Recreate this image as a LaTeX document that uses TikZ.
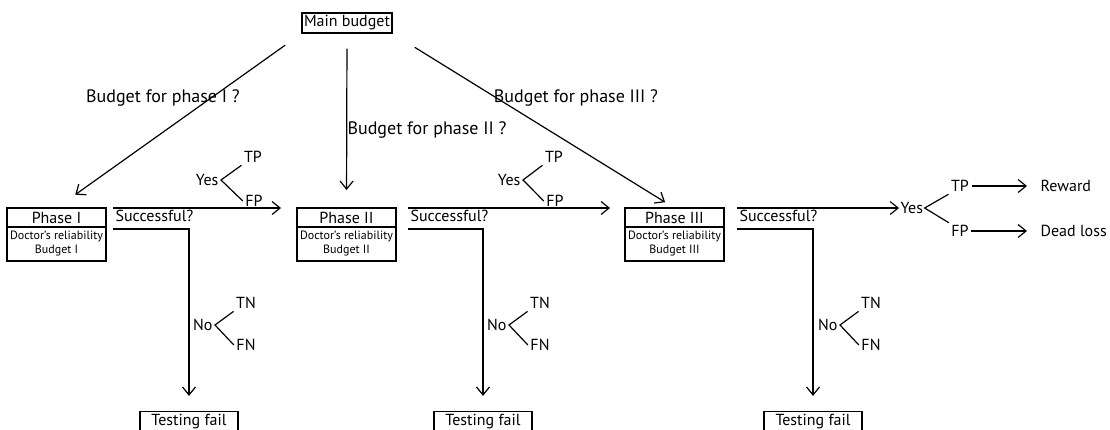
\documentclass[tikz,border=0pt]{standalone}
\usepackage{fontspec}
\setmainfont{PT Sans}
\usepackage{tikz}
\usetikzlibrary{arrows.meta,positioning,calc}
\tikzset{
  lbl/.style={inner sep=2pt, font=\fontsize{16}{18}\selectfont},
  qlbl/.style={inner sep=2pt, font=\fontsize{18}{20}\selectfont},
  namebox/.style={draw, inner sep=2pt, minimum height=20pt, font=\fontsize{16}{18}\selectfont},
  phasebox/.style={draw, outer sep=0pt, inner sep=1pt, minimum width=99pt, minimum height=19pt,
    font=\fontsize{16}{18}\selectfont},
  infobox/.style={draw, outer sep=0pt, inner sep=1pt, minimum width=99pt, minimum height=34pt,
    align=center, font=\fontsize{12}{14}\selectfont},
  failbox/.style={draw, inner sep=3pt, minimum width=98pt, minimum height=21pt,
    font=\fontsize{16}{18}\selectfont}
}

\begin{document}
\begin{tikzpicture}[x=1pt,y=-1pt,>={Straight Barb[length=8pt,width=13pt]},line width=1.2pt]
  \useasboundingbox (0,0) rectangle (1110,429);
  \clip (0,0) rectangle (1110,429);

  \node[namebox] (main) at (347,23) {Main budget};

  \foreach \i/\x/\r in {1/56.5/I,2/346.5/II,3/674.5/III} {
    \node[phasebox] (ph\i) at (\x,217.5) {Phase \r};
    \node[infobox,below=0pt of ph\i] (info\i) {Doctor's reliability\\Budget \r};
  }
  \foreach \i/\x in {1/189,2/483,3/813}
    \node[failbox] (fail\i) at (\x,422) {Testing fail};

  % budget questions
  \draw[->,shorten <=20pt,shorten >=23pt] (main.south west) -- (ph1.north);
  \draw[->,shorten <=15pt,shorten >=18pt] (main.south) -- (ph2.north);
  \draw[->,shorten <=26pt,shorten >=11pt] (main.south east) -- (ph3.north);
  \node[qlbl] (q1) at (163,98) {Budget for phase I ?};
  \node[qlbl] (q2) at (427,130) {Budget for phase II ?};
  \node[qlbl] (q3) at (576,98) {Budget for phase III ?};

  % successful -> next phase
  \draw[->,shorten >=16pt] ([xshift=7pt]ph1.north east)
    node[lbl,anchor=north west] (s1) {Successful?} -- (ph2.north west);
  \draw[->,shorten >=15pt] ([xshift=12pt]ph2.north east)
    node[lbl,anchor=north west] (s2) {Successful?} -- (ph3.north west);
  \node[lbl,anchor=west,inner sep=1pt] (yes3) at (899,208) {Yes};
  \draw[->] ([xshift=13pt]ph3.north east)
    node[lbl,anchor=north west] (s3) {Successful?} -- (yes3.west);

  % not successful
  \foreach \i/\dx in {1/7,2/12,3/13}
    \draw[->,shorten >=15pt] ([shift={(\dx,2)}]info\i.north east) -| (fail\i.north);

  % yes forks
  \node[lbl,anchor=east] (yes1) at (221,180) {Yes};
  \node[lbl] (tp1) at (253,157) {TP};
  \node[lbl] (fp1) at (254,201) {FP};
  \draw (tp1.south west) -- (yes1.east) -- (fp1.west);
  \node[lbl,anchor=east] (yes2) at (523,180) {Yes};
  \node[lbl] (tp2) at (554,157) {TP};
  \node[lbl] (fp2) at (555,201) {FP};
  \draw (tp2.south west) -- (yes2.east) -- (fp2.west);
  \node[lbl] (tp3) at (960,186) {TP};
  \node[lbl] (fp3) at (960,231) {FP};
  \draw (tp3.south west) -- (yes3.east) -- (fp3.north west);
  \node[lbl,anchor=west] (rew) at (1038,186) {Reward};
  \node[lbl,anchor=west] (loss) at (1038,231) {Dead loss};
  \draw[->,shorten >=11pt] (tp3) -- (rew);
  \draw[->,shorten >=11pt] (fp3) -- (loss);

  % no forks
  \foreach \i/\x in {1/215,2/509,3/840} {
    \node[lbl,anchor=east] (no\i) at (\x,325) {No};
    \node[lbl] (tn\i) at ({\x+31},303) {TN};
    \node[lbl] (fn\i) at ({\x+31},345) {FN};
    \draw (tn\i.south west) -- (no\i.east) -- (fn\i.west);
  }
\end{tikzpicture}
\end{document}
